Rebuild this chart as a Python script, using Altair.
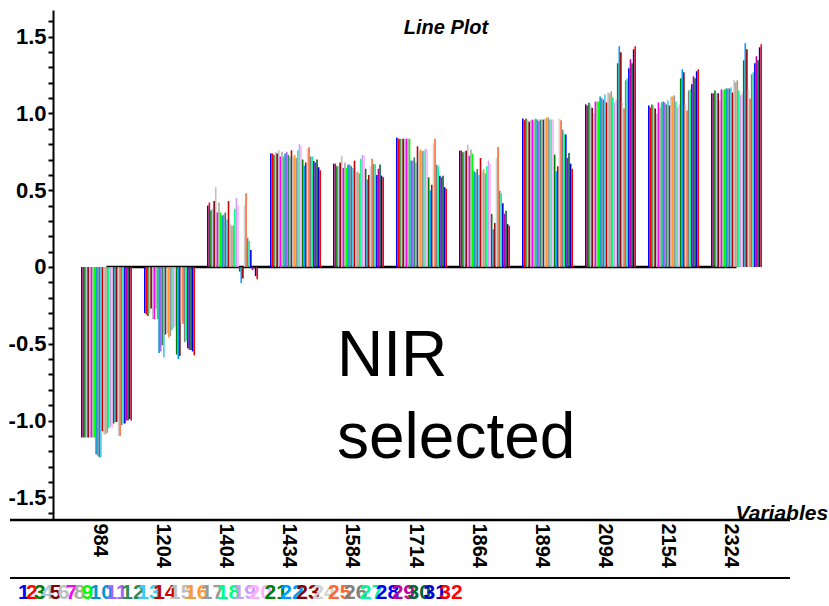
import altair as alt
import pandas as pd

variables = ["984", "1204", "1404", "1434", "1584", "1714", "1864", "1894", "2094", "2154", "2324"]
series_labels = [str(i) for i in range(1, 33)]
colors = [
    "#0000FF", "#FF0000", "#008000", "#B0C4DE", "#800000", "#C0C0C0", "#FF00FF", "#A9A9A9",
    "#00FF00", "#0099CC", "#A366FF", "#2E8B57", "#40C8F0", "#CC0000", "#BEBEBE", "#FF9933",
    "#999999", "#00FF7F", "#C8A0F8", "#FFB0FF", "#008000", "#0099FF", "#8B0000", "#D3D3D3",
    "#FF6633", "#808080", "#00FA9A", "#0000FF", "#C000A0", "#006633", "#0000CC", "#FF0000",
]

v984 = [-1.11, -1.11, -1.11, -1.11, -1.11, -1.11, -1.11, -1.11, -1.11, -1.22, -1.23, -1.24,
        -1.24, -1.07, -1.09, -1.09, -1.08, -1.05, -1.04, -1.05, -1.02, -1.01, -1.01, -1.10,
        -1.10, -1.03, -1.02, -1.02, -1.00, -1.00, -0.99, -1.00]
v1204 = [-0.30, -0.31, -0.32, -0.30, -0.27, -0.34, -0.34, -0.27, -0.34, -0.56, -0.55, -0.51,
         -0.59, -0.44, -0.43, -0.46, -0.45, -0.41, -0.40, -0.39, -0.57, -0.60, -0.58, -0.35,
         -0.37, -0.49, -0.48, -0.53, -0.54, -0.54, -0.55, -0.575]
v1404 = [0.40, 0.42, 0.37, 0.38, 0.43, 0.52, 0.355, 0.42, 0.355, 0.335, 0.34, 0.355,
         0.31, 0.43, 0.28, 0.27, 0.27, 0.38, 0.45, 0.40, -0.03, -0.105, -0.075, 0.40,
         0.48, 0.19, 0.17, 0.11, -0.02, -0.01, -0.06, -0.08]
v1434 = [0.74, 0.74, 0.73, 0.75, 0.74, 0.76, 0.72, 0.75, 0.72, 0.74, 0.75, 0.73,
         0.72, 0.76, 0.72, 0.73, 0.71, 0.76, 0.80, 0.79, 0.70, 0.66, 0.68, 0.77,
         0.78, 0.72, 0.72, 0.69, 0.68, 0.70, 0.65, 0.63]
v1584 = [0.673, 0.673, 0.656, 0.66, 0.68, 0.725, 0.645, 0.68, 0.645, 0.667, 0.667, 0.656,
         0.645, 0.693, 0.62, 0.62, 0.61, 0.705, 0.73, 0.725, 0.64, 0.57, 0.60, 0.656,
         0.705, 0.67, 0.67, 0.60, 0.64, 0.667, 0.595, 0.585]
v1714 = [0.843, 0.836, 0.836, 0.836, 0.836, 0.836, 0.836, 0.836, 0.836, 0.693, 0.693, 0.714,
         0.68, 0.786, 0.758, 0.765, 0.755, 0.758, 0.771, 0.765, 0.584, 0.499, 0.536, 0.804,
         0.836, 0.667, 0.656, 0.595, 0.585, 0.595, 0.52, 0.51]
v1864 = [0.758, 0.758, 0.747, 0.752, 0.758, 0.797, 0.725, 0.765, 0.738, 0.623, 0.616, 0.638,
         0.60, 0.71, 0.623, 0.638, 0.61, 0.656, 0.693, 0.673, 0.346, 0.246, 0.286, 0.71,
         0.782, 0.497, 0.48, 0.416, 0.346, 0.366, 0.279, 0.268]
v1894 = [0.967, 0.956, 0.967, 0.96, 0.946, 0.956, 0.96, 0.956, 0.967, 0.96, 0.95, 0.96,
         0.96, 0.96, 0.967, 0.974, 0.974, 0.96, 0.96, 0.96, 0.732, 0.623, 0.656, 0.967,
         0.956, 0.895, 0.869, 0.863, 0.71, 0.743, 0.673, 0.64]
v2094 = [1.059, 1.052, 1.07, 1.059, 1.037, 1.00, 1.078, 1.078, 1.078, 1.111, 1.10, 1.09,
         1.124, 1.072, 1.137, 1.13, 1.144, 1.105, 1.072, 1.09, 1.327, 1.438, 1.399, 1.072,
         1.033, 1.216, 1.229, 1.294, 1.353, 1.327, 1.418, 1.438]
v2154 = [1.052, 1.039, 1.059, 1.052, 1.033, 1.00, 1.072, 1.039, 1.072, 1.078, 1.072, 1.059,
         1.085, 1.052, 1.111, 1.111, 1.118, 1.078, 1.039, 1.059, 1.229, 1.288, 1.268, 1.059,
         1.02, 1.15, 1.157, 1.19, 1.242, 1.229, 1.275, 1.288]
v2324 = [1.131, 1.131, 1.15, 1.131, 1.131, 1.085, 1.157, 1.15, 1.157, 1.163, 1.163, 1.163,
         1.17, 1.137, 1.216, 1.203, 1.216, 1.15, 1.118, 1.131, 1.346, 1.458, 1.418, 1.157,
         1.098, 1.255, 1.268, 1.327, 1.373, 1.346, 1.431, 1.451]

all_values = [v984, v1204, v1404, v1434, v1584, v1714, v1864, v1894, v2094, v2154, v2324]

rows = []
for var, vals in zip(variables, all_values):
    for s, v in zip(series_labels, vals):
        rows.append({"variable": var, "series": s, "value": v})
bars_df = pd.DataFrame(rows)

zero_df = pd.DataFrame({"variable": variables, "value": [0.0] * len(variables)})

# legend labels, each placed after the characters of the previous ones
leg_rows = []
chars = 0
for s in series_labels:
    leg_rows.append({"series": s, "label": s, "pos": chars})
    chars += len(s)
legend_df = pd.DataFrame(leg_rows)

FONT = "Liberation Sans"
y_ticks = [round(-1.6 + 0.1 * i, 1) for i in range(33)]

y_scale = alt.Scale(domain=[-1.648, 1.674], nice=False, zero=False)
x_scale = alt.Scale(domain=variables, paddingInner=0.19, paddingOuter=0.444)
color_scale = alt.Scale(domain=series_labels, range=colors)

x_axis = alt.Axis(
    title="Variables", labelAngle=90, labelAlign="left", labelBaseline="middle",
    labelPadding=3, labelOffset=-6, ticks=False, domain=False, grid=False,
    labelFont=FONT, labelFontSize=20, labelFontWeight="bold", labelColor="black",
    labelOverlap=False, labelFlush=False, labelBound=False,
    titleFont=FONT, titleFontSize=21, titleFontWeight="bold", titleFontStyle="italic",
    titleColor="black", titleX=682, titleY=-1, titleAlign="left", titleBaseline="alphabetic",
    titleAngle=0,
)
y_axis = alt.Axis(
    title=None, values=y_ticks, grid=False, tickSize=5, tickWidth=2, tickColor="black",
    domainColor="black", domainWidth=2, labelPadding=2,
    labelFont=FONT, labelFontSize=22, labelFontWeight="bold", labelColor="black",
    labelOverlap=False, labelFlush=False, labelBound=False,
    labelExpr="abs(datum.value*2 - round(datum.value*2)) < 0.001 ? (abs(datum.value) < 0.001 ? '0' : (datum.value < 0 ? '-' : '') + format(abs(datum.value), '.1f')) : ''",
)

zero_line = alt.Chart(zero_df).mark_line(color="black", strokeWidth=2.5).encode(
    x=alt.X("variable:N", sort=variables, scale=x_scale, axis=x_axis),
    y=alt.Y("value:Q", scale=y_scale, axis=y_axis),
)

bars = alt.Chart(bars_df).mark_bar(opacity=1).encode(
    x=alt.X("variable:N", sort=variables, scale=x_scale, axis=x_axis),
    xOffset=alt.XOffset("series:N", sort=series_labels,
                        scale=alt.Scale(paddingInner=0, paddingOuter=0)),
    y=alt.Y("value:Q", scale=y_scale, axis=y_axis),
    color=alt.Color("series:N", scale=color_scale, legend=None),
)

main = alt.layer(zero_line, bars)

legend_text = alt.Chart(legend_df).mark_text(
    align="left", baseline="alphabetic", font=FONT, fontSize=21, fontWeight="bold"
).encode(
    x=alt.X("pos:Q", scale=alt.Scale(domain=[0, 10], range=[-35, 44.5]), axis=None),
    y=alt.value(589),
    text="label:N",
    color=alt.Color("series:N", scale=color_scale, legend=None),
)

one = pd.DataFrame({"t": ["Line Plot"]})
title_text = alt.Chart(one).mark_text(
    align="center", baseline="alphabetic", font=FONT, fontSize=20,
    fontWeight="bold", fontStyle="italic", color="black"
).encode(x=alt.value(393), y=alt.value(24), text="t:N")

nir = pd.DataFrame({"t": [["NIR", "selected"]]})
nir_text = alt.Chart(nir).mark_text(
    align="left", baseline="alphabetic", font=FONT, fontSize=64, lineHeight=82, color="black"
).encode(x=alt.value(284), y=alt.value(366), text="t")

line_df = pd.DataFrame({"k": [0]})
x_line = alt.Chart(line_df).mark_rule(color="black", strokeWidth=2.5).encode(
    x=alt.value(-43), x2=alt.value(737), y=alt.value(510)
)
sep_line = alt.Chart(line_df).mark_rule(color="black", strokeWidth=2).encode(
    x=alt.value(-43), x2=alt.value(737), y=alt.value(568)
)

chart = alt.layer(
    main, legend_text, title_text, nir_text, x_line, sep_line
).resolve_scale(x="independent").properties(
    width=737, height=510,
    autosize=alt.AutoSizeParams(type="none"),
    padding={"left": 53, "top": 10, "right": 39, "bottom": 86},
    background="white",
).configure_view(stroke=None)

chart.save("out.html", embed_options={"renderer": "svg", "actions": False})
